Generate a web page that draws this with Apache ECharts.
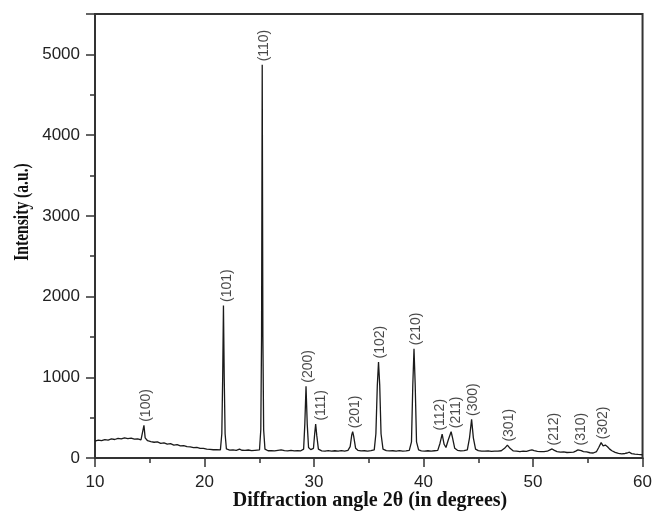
<!DOCTYPE html>
<html>
<head>
<meta charset="utf-8">
<script src="https://cdn.jsdelivr.net/npm/echarts@6/dist/echarts.min.js"></script>
<style>
html,body{margin:0;padding:0;background:#fff}
#main_chart{width:655px;height:514px}
</style>
</head>
<body>
<div id="main_chart"></div>
<script>
// XRD scan, [2theta, intensity]
var scan = [
  [10.0,210],[10.3,222],[10.6,214],[10.9,228],[11.2,222],[11.5,236],[11.8,229],[12.1,244],
  [12.4,237],[12.7,250],[13.0,240],[13.3,247],[13.6,234],[13.9,238],[14.2,226],[14.36,240],
  [14.47,405],[14.58,250],[14.8,214],[15.1,204],[15.4,195],[15.7,200],[16.0,182],[16.3,188],
  [16.6,172],[16.9,177],[17.2,160],[17.5,165],[17.8,150],[18.1,154],[18.4,140],[18.7,138],
  [19.0,128],[19.3,131],[19.6,118],[19.9,120],[20.2,110],[20.5,108],[20.8,102],[21.1,104],
  [21.45,100],[21.58,300],[21.66,1000],[21.73,1890],[21.8,1000],[21.88,300],[22.0,112],
  [22.3,98],[22.6,100],[22.9,94],[23.2,110],[23.4,96],[23.7,94],[24.0,99],[24.3,91],[24.6,95],
  [25.02,100],[25.14,350],[25.21,1500],[25.27,4870],[25.33,1500],[25.4,350],[25.52,110],
  [25.8,90],[26.1,92],[26.4,87],[26.7,95],[27.0,100],[27.3,91],[27.6,89],[27.9,95],[28.2,87],
  [28.5,92],[28.8,89],[29.05,110],[29.16,420],[29.27,890],[29.38,420],[29.5,130],[29.7,104],
  [29.95,120],[30.06,300],[30.15,420],[30.25,280],[30.4,110],[30.7,89],[31.0,85],[31.3,92],
  [31.6,86],[31.9,90],[32.2,84],[32.5,92],[32.8,86],[33.1,95],[33.3,140],[33.45,290],
  [33.53,325],[33.62,270],[33.8,120],[34.0,95],[34.3,88],[34.6,90],[34.9,86],[35.2,92],
  [35.5,100],[35.65,300],[35.78,900],[35.89,1190],[36.0,900],[36.12,300],[36.3,110],
  [36.6,92],[36.9,88],[37.2,90],[37.5,84],[37.8,92],[38.1,86],[38.4,88],[38.7,95],
  [38.9,200],[39.02,900],[39.13,1354],[39.24,900],[39.36,200],[39.55,100],[39.8,88],
  [40.1,85],[40.4,90],[40.7,84],[41.0,90],[41.3,95],[41.5,180],[41.7,296],[41.88,170],
  [42.05,130],[42.25,220],[42.52,325],[42.65,250],[42.85,120],[43.1,95],[43.4,88],[43.7,92],
  [44.0,100],[44.2,250],[44.39,478],[44.55,250],[44.75,110],[45.0,92],[45.3,86],[45.6,84],
  [45.9,88],[46.2,82],[46.5,86],[46.8,84],[47.1,90],[47.4,120],[47.66,160],[47.9,120],
  [48.2,88],[48.5,84],[48.8,80],[49.1,86],[49.4,82],[49.7,95],[49.9,100],[50.1,90],[50.4,82],
  [50.7,78],[51.0,80],[51.3,84],[51.55,100],[51.74,112],[51.95,95],[52.2,80],[52.5,72],
  [52.8,75],[53.1,68],[53.4,70],[53.7,72],[53.9,85],[54.1,100],[54.25,112],[54.4,92],
  [54.6,80],[54.75,95],[54.9,75],[55.2,65],[55.5,62],[55.8,80],[56.0,130],[56.22,190],
  [56.4,150],[56.6,160],[56.8,140],[57.0,110],[57.2,90],[57.5,70],[57.8,58],[58.1,52],
  [58.4,56],[58.6,62],[58.8,72],[59.0,54],[59.3,48],[59.6,44],[60.0,40]
];

// indexed reflections
var peakNames = ['(100)','(101)','(110)','(200)','(111)','(201)','(102)','(210)',
                 '(112)','(211)','(300)','(301)','(212)','(310)','(302)'];
var peakAngles = [14.47,21.73,25.27,29.27,30.15,33.53,35.89,39.13,41.70,42.52,44.39,47.66,51.74,54.25,56.22];
var peakHeights = [405,1890,4870,890,420,325,1190,1354,296,325,478,160,112,112,190];

var xTitle = 'Diffraction angle 2\u03b8 (in degrees)';
var yTitle = 'Intensity (a.u.)';

var myChart = echarts.init(document.getElementById('main_chart'));

// a few labels sit a little off their peak in the original
// (label is rotated, so the 2nd offset component moves it sideways)
var labelShift = {'(101)': 4, '(111)': 5, '(112)': -2, '(211)': 5};

var peakData = [];
for (var i = 0; i < peakNames.length; i++) {
    var item = {name: peakNames[i], value: [peakAngles[i], peakHeights[i]]};
    if (labelShift[peakNames[i]] !== undefined) {
        item.label = {offset: [0, labelShift[peakNames[i]]]};
    }
    peakData.push(item);
}

var axisColor = '#333';
var tickFont = {fontSize: 17, color: '#222', fontFamily: 'Liberation Sans, Arial, sans-serif'};

var option = {
    animation: false,
    backgroundColor: '#fff',
    grid: {
        left: 95, right: 9, top: 14, bottom: 56,
        show: true, borderColor: axisColor, borderWidth: 2
    },
    xAxis: {
        type: 'value', min: 10, max: 60, interval: 10,
        axisLine: {show: true, onZero: false, lineStyle: {color: axisColor, width: 2}},
        axisTick: {show: true, length: 9, lineStyle: {color: axisColor, width: 1.5}},
        minorTick: {show: true, splitNumber: 2, length: 5, lineStyle: {color: axisColor, width: 1.5}},
        axisLabel: Object.assign({margin: 16}, tickFont),
        splitLine: {show: false}
    },
    yAxis: [
        {
            type: 'value', min: 0, max: 5500, interval: 1000, position: 'left',
            axisLine: {show: true, lineStyle: {color: axisColor, width: 2}},
            axisTick: {show: true, length: 9, lineStyle: {color: axisColor, width: 1.5}},
            axisLabel: Object.assign({
                margin: 15,
                formatter: function (v) { return v % 1000 === 0 ? v : ''; }
            }, tickFont),
            splitLine: {show: false}
        },
        {
            // minor ticks only
            type: 'value', min: 0, max: 5500, interval: 500, position: 'left',
            axisLine: {show: false},
            axisTick: {show: true, length: 5, lineStyle: {color: axisColor, width: 1.5}},
            axisLabel: {show: false},
            splitLine: {show: false}
        }
    ],
    series: [
        {
            type: 'line', data: scan, yAxisIndex: 0,
            showSymbol: false, symbol: 'none',
            lineStyle: {color: '#1a1a1a', width: 1.3}
        },
        {
            type: 'scatter', data: peakData, yAxisIndex: 0,
            symbolSize: 1, itemStyle: {color: 'rgba(0,0,0,0)'},
            label: {
                show: true, formatter: '{b}', position: 'top', distance: 3,
                rotate: 90, align: 'left', verticalAlign: 'middle', offset: [0, 2],
                fontSize: 14, color: '#1a1a1a', fontFamily: 'Liberation Sans, Arial, sans-serif'
            }
        }
    ],
    graphic: [
        {
            type: 'text', x: 370, y: 501,
            style: {text: xTitle, font: 'bold 20px "Liberation Serif", "Times New Roman", serif',
                    fill: '#111', textAlign: 'center', textVerticalAlign: 'middle'}
        },
        {
            type: 'text', x: 23, y: 212, rotation: Math.PI / 2, scaleX: 0.78,
            style: {text: yTitle, font: 'bold 20px "Liberation Serif", "Times New Roman", serif',
                    fill: '#111', textAlign: 'center', textVerticalAlign: 'middle'}
        }
    ]
};

myChart.setOption(option);
</script>
</body>
</html>
